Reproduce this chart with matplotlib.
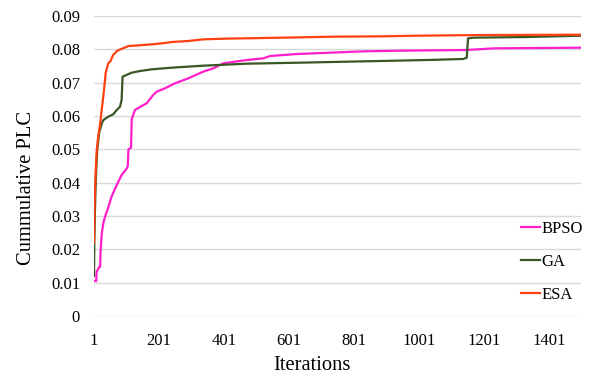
import matplotlib
matplotlib.use("Agg")
import matplotlib.pyplot as plt

# values (iteration, cumulative PLC)
bpso_it = [1, 8, 9, 18, 20, 21, 25, 30, 35, 45, 55, 71, 86, 102, 105, 107, 115, 117,
           127, 153, 163, 183, 194, 219, 250, 291, 337, 368, 399, 471, 522, 543, 625,
           727, 830, 942, 1148, 1230, 1500]
bpso_val = [0.0105, 0.0105, 0.0133, 0.0148, 0.0148, 0.019, 0.0248, 0.028, 0.0298, 0.0326,
            0.0358, 0.0393, 0.0423, 0.0443, 0.045, 0.050, 0.0505, 0.059, 0.0618, 0.0633,
            0.0638, 0.0663, 0.0673, 0.0683, 0.0698, 0.0713, 0.0733, 0.0743, 0.0758, 0.0768,
            0.0773, 0.078, 0.0786, 0.079, 0.0794, 0.0796, 0.0798, 0.0803, 0.0805]

ga_it = [1, 2, 4, 7, 11, 17, 25, 30, 45, 60, 71, 81, 86, 89, 96, 117, 143, 178, 240,
         337, 471, 635, 779, 881, 1025, 1137, 1148, 1152, 1168, 1332, 1500]
ga_val = [0.012, 0.022, 0.032, 0.042, 0.050, 0.055, 0.0578, 0.0588, 0.0598, 0.0605,
          0.0618, 0.0628, 0.0648, 0.0718, 0.0721, 0.073, 0.0735, 0.074, 0.0745, 0.0751,
          0.0757, 0.076, 0.0763, 0.0765, 0.0768, 0.0771, 0.0775, 0.0833, 0.0835, 0.0837,
          0.0841]

esa_it = [1, 3, 6, 9, 14, 19, 25, 32, 37, 45, 52, 60, 73, 90, 107, 140, 178, 210, 240,
          290, 337, 401, 522, 635, 738, 881, 1000, 1200, 1500]
esa_val = [0.022, 0.035, 0.043, 0.049, 0.054, 0.057, 0.062, 0.068, 0.073, 0.0758, 0.0765,
           0.0783, 0.0796, 0.0803, 0.081, 0.0812, 0.0815, 0.0818, 0.0822, 0.0825, 0.083,
           0.0832, 0.0834, 0.0836, 0.0838, 0.0839, 0.0841, 0.0843, 0.0844]

x_ticks = [1, 201, 401, 601, 801, 1001, 1201, 1401]
y_ticks = [0, 0.01, 0.02, 0.03, 0.04, 0.05, 0.06, 0.07, 0.08, 0.09]
y_labels = ["0", "0.01", "0.02", "0.03", "0.04", "0.05", "0.06", "0.07", "0.08", "0.09"]

plt.rcParams["font.family"] = ["Liberation Serif", "DejaVu Serif"]

fig = plt.figure(figsize=(5.93, 3.76), dpi=100)
ax = fig.add_axes([0.1585, 0.1596, 0.8215, 0.7978])

ax.plot(bpso_it, bpso_val, color="#FF1ECB", lw=1.6, label="BPSO", zorder=3)
ax.plot(ga_it, ga_val, color="#385723", lw=1.6, label="GA", zorder=4)
ax.plot(esa_it, esa_val, color="#FF4010", lw=1.6, label="ESA", zorder=5)

ax.set_xlim(1, 1500)
ax.set_ylim(0, 0.09)
ax.set_xticks(x_ticks)
ax.set_yticks(y_ticks)
ax.set_yticklabels(y_labels)
ax.tick_params(length=0, labelsize=12)
ax.tick_params(axis="x", pad=12)
ax.tick_params(axis="y", pad=10)
ax.grid(axis="y", color="#D9D9D9", lw=1)
ax.set_axisbelow(True)
for s in ax.spines.values():
    s.set_visible(False)

ax.set_xlabel("Iterations", fontsize=14.8)
ax.set_ylabel("Cummulative PLC", fontsize=14.8)
ax.xaxis.set_label_coords(0.4466, -0.135)
ax.yaxis.set_label_coords(-0.119, 0.4267)

ax.legend(loc="center left", bbox_to_anchor=(0.877, 0.18), frameon=False,
          fontsize=12, handlelength=1.1, handletextpad=0.1, labelspacing=1.04,
          borderpad=0, borderaxespad=0)

fig.savefig("out.png", dpi=100)
